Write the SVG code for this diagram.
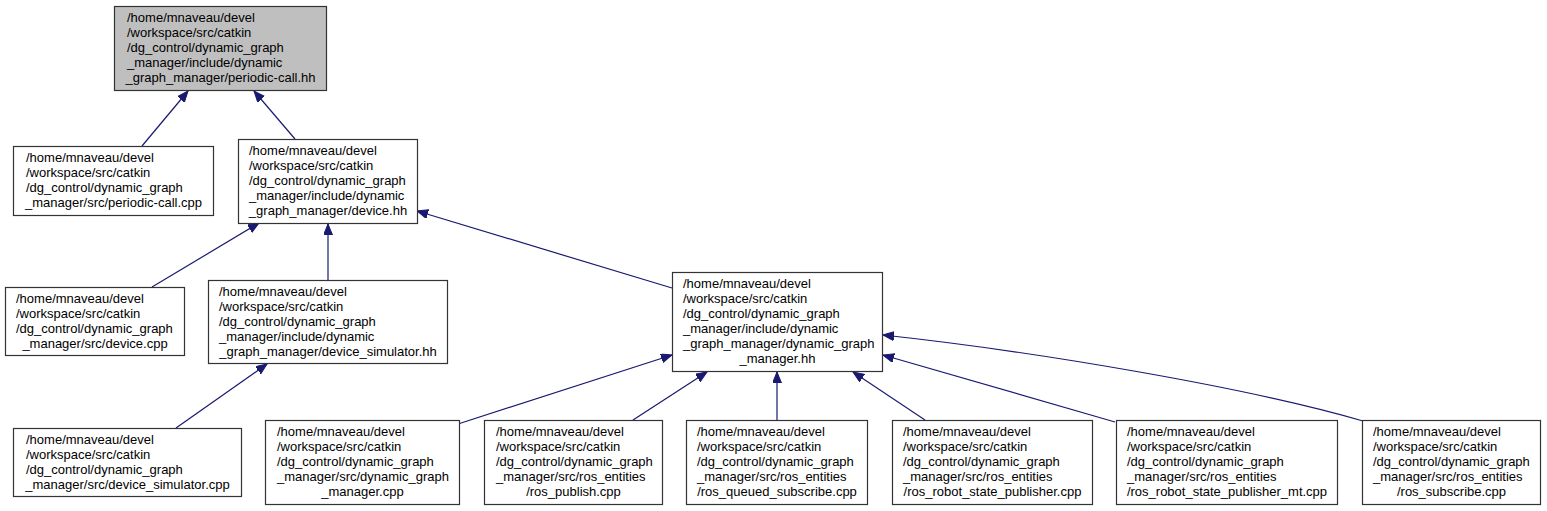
<svg xmlns="http://www.w3.org/2000/svg" width="1547" height="511" viewBox="0 0 1547 511">
<style>
.n rect{fill:#fff;stroke:#333;stroke-width:1.2}
.root rect{fill:#bfbfbf}
text{font-family:"Liberation Sans",Arial,sans-serif;font-size:13px;fill:#000}
.c{text-anchor:middle}
.e path{fill:none;stroke:#191970;stroke-width:1.2}
</style>
<defs>
<marker id="a" markerUnits="userSpaceOnUse" markerWidth="13" markerHeight="10" refX="11" refY="4.5" orient="auto">
<path d="M0,0 L11,4.5 L0,9 z" fill="#191970" stroke="#191970" stroke-width="1"/>
</marker>
</defs>
<rect width="1547" height="511" fill="#fff"/>
<g class="e" id="edges">
<path d="M142,146 L188,91" marker-end="url(#a)"/>
<path d="M295,139 L254,91" marker-end="url(#a)"/>
<path d="M152,287 L259,223" marker-end="url(#a)"/>
<path d="M328,280 L328,224" marker-end="url(#a)"/>
<path d="M672,288 L417,211" marker-end="url(#a)"/>
<path d="M176,428 L267,364" marker-end="url(#a)"/>
<path d="M458,424 L672,355" marker-end="url(#a)"/>
<path d="M633,420 L707,372" marker-end="url(#a)"/>
<path d="M777,420 L777,372" marker-end="url(#a)"/>
<path d="M925,420 L853,372" marker-end="url(#a)"/>
<path d="M1115,422 L883,355" marker-end="url(#a)"/>
<path d="M1363,421 C1250,388 1040,352 883,335" marker-end="url(#a)"/>
</g>
<g class="n root" id="root">
<rect x="114.5" y="6.5" width="212" height="84"/>
<text x="127" y="22">/home/mnaveau/devel</text>
<text x="127" y="37">/workspace/src/catkin</text>
<text x="127" y="52">/dg_control/dynamic_graph</text>
<text x="127" y="67">_manager/include/dynamic</text>
<text x="220.5" y="82" class="c">_graph_manager/periodic-call.hh</text>
</g>
<g class="n" id="periodic_call_cpp">
<rect x="13.5" y="146.5" width="200" height="69"/>
<text x="26" y="162">/home/mnaveau/devel</text>
<text x="26" y="177">/workspace/src/catkin</text>
<text x="26" y="192">/dg_control/dynamic_graph</text>
<text x="113.5" y="207" class="c">_manager/src/periodic-call.cpp</text>
</g>
<g class="n" id="device_hh">
<rect x="238.5" y="139.5" width="179" height="84"/>
<text x="249" y="155">/home/mnaveau/devel</text>
<text x="249" y="170">/workspace/src/catkin</text>
<text x="249" y="185">/dg_control/dynamic_graph</text>
<text x="249" y="200">_manager/include/dynamic</text>
<text x="328" y="215" class="c">_graph_manager/device.hh</text>
</g>
<g class="n" id="device_cpp">
<rect x="5.5" y="287.5" width="179" height="68"/>
<text x="16" y="303">/home/mnaveau/devel</text>
<text x="16" y="318">/workspace/src/catkin</text>
<text x="16" y="333">/dg_control/dynamic_graph</text>
<text x="95" y="348" class="c">_manager/src/device.cpp</text>
</g>
<g class="n" id="device_simulator_hh">
<rect x="208.5" y="280.5" width="239" height="83"/>
<text x="219" y="296">/home/mnaveau/devel</text>
<text x="219" y="311">/workspace/src/catkin</text>
<text x="219" y="326">/dg_control/dynamic_graph</text>
<text x="219" y="341">_manager/include/dynamic</text>
<text x="328" y="356" class="c">_graph_manager/device_simulator.hh</text>
</g>
<g class="n" id="dynamic_graph_manager_hh">
<rect x="672.5" y="272.5" width="210" height="99"/>
<text x="683" y="288">/home/mnaveau/devel</text>
<text x="683" y="303">/workspace/src/catkin</text>
<text x="683" y="318">/dg_control/dynamic_graph</text>
<text x="683" y="333">_manager/include/dynamic</text>
<text x="683" y="348">_graph_manager/dynamic_graph</text>
<text x="777.5" y="363" class="c">_manager.hh</text>
</g>
<g class="n" id="device_simulator_cpp">
<rect x="13.5" y="428.5" width="228" height="68"/>
<text x="26" y="444">/home/mnaveau/devel</text>
<text x="26" y="459">/workspace/src/catkin</text>
<text x="26" y="474">/dg_control/dynamic_graph</text>
<text x="127.5" y="489" class="c">_manager/src/device_simulator.cpp</text>
</g>
<g class="n" id="dynamic_graph_manager_cpp">
<rect x="265.5" y="420.5" width="194" height="84"/>
<text x="277" y="436">/home/mnaveau/devel</text>
<text x="277" y="451">/workspace/src/catkin</text>
<text x="277" y="466">/dg_control/dynamic_graph</text>
<text x="277" y="481">_manager/src/dynamic_graph</text>
<text x="362.5" y="496" class="c">_manager.cpp</text>
</g>
<g class="n" id="ros_publish_cpp">
<rect x="484.5" y="420.5" width="178" height="84"/>
<text x="496" y="436">/home/mnaveau/devel</text>
<text x="496" y="451">/workspace/src/catkin</text>
<text x="496" y="466">/dg_control/dynamic_graph</text>
<text x="496" y="481">_manager/src/ros_entities</text>
<text x="573.5" y="496" class="c">/ros_publish.cpp</text>
</g>
<g class="n" id="ros_queued_subscribe_cpp">
<rect x="686.5" y="420.5" width="181" height="84"/>
<text x="697" y="436">/home/mnaveau/devel</text>
<text x="697" y="451">/workspace/src/catkin</text>
<text x="697" y="466">/dg_control/dynamic_graph</text>
<text x="697" y="481">_manager/src/ros_entities</text>
<text x="777" y="496" class="c">/ros_queued_subscribe.cpp</text>
</g>
<g class="n" id="ros_robot_state_publisher_cpp">
<rect x="892.5" y="420.5" width="200" height="84"/>
<text x="903" y="436">/home/mnaveau/devel</text>
<text x="903" y="451">/workspace/src/catkin</text>
<text x="903" y="466">/dg_control/dynamic_graph</text>
<text x="903" y="481">_manager/src/ros_entities</text>
<text x="992.5" y="496" class="c">/ros_robot_state_publisher.cpp</text>
</g>
<g class="n" id="ros_robot_state_publisher_mt_cpp">
<rect x="1116.5" y="420.5" width="221" height="84"/>
<text x="1127" y="436">/home/mnaveau/devel</text>
<text x="1127" y="451">/workspace/src/catkin</text>
<text x="1127" y="466">/dg_control/dynamic_graph</text>
<text x="1127" y="481">_manager/src/ros_entities</text>
<text x="1227" y="496" class="c">/ros_robot_state_publisher_mt.cpp</text>
</g>
<g class="n" id="ros_subscribe_cpp">
<rect x="1362.5" y="420.5" width="178" height="84"/>
<text x="1373" y="436">/home/mnaveau/devel</text>
<text x="1373" y="451">/workspace/src/catkin</text>
<text x="1373" y="466">/dg_control/dynamic_graph</text>
<text x="1373" y="481">_manager/src/ros_entities</text>
<text x="1451.5" y="496" class="c">/ros_subscribe.cpp</text>
</g>
</svg>
